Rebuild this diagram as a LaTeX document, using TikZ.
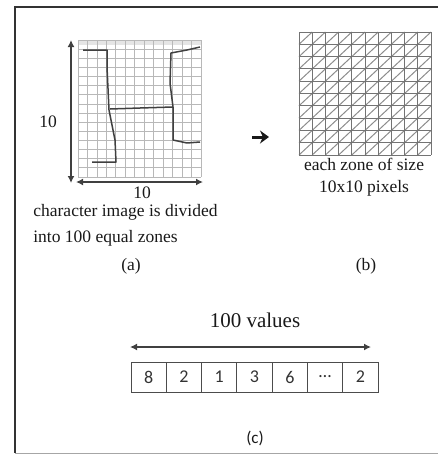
\documentclass[tikz,border=0pt]{standalone}
\usepackage{fontspec}
\setmainfont{Liberation Serif}
\newfontfamily\calfont{Carlito}
\usetikzlibrary{arrows.meta}

\tikzset{every picture/.style={line width=0.75pt}}
\tikzset{
  gridline/.style={draw=black!28, line width=0.8pt},
  zoneline/.style={draw=black!55, line width=1pt},
  penstroke/.style={draw=black!75, line width=1.5pt, line join=round},
  dimarrow/.style={{Latex[length=7pt,width=7pt]}-{Latex[length=7pt,width=7pt]}, line width=1.4pt, draw=black!75},
  bigarrow/.style={-{Stealth[length=9pt,width=13pt]}, line width=3pt, draw=black!90},
  lbl/.style={font=\fontsize{17.5}{21}\selectfont, text=black!90, inner sep=0pt},
  cell/.style={draw=black!70, line width=1pt, minimum width=35.3pt, minimum height=30pt,
    inner sep=0pt, font=\calfont\fontsize{18}{18}\selectfont, text=black!80},
}

\begin{document}
\begin{tikzpicture}[x=1pt,y=-1pt]
    \useasboundingbox (0,0) rectangle (438,455);
    % frame
    \draw[line width=2pt, black!80] (438,7) -- (15,7) -- (15,453);
    \draw[line width=1pt, black!35] (15,453) -- (438,453);
    % (a) character image on a grid
    \fill[black!10] (78,40) rectangle (201,45);
    \foreach \i in {0,...,13} \draw[gridline] ({78+\i*9.46},40) -- ({78+\i*9.46},177);
    \foreach \j in {0,...,15} \draw[gridline] (78,{40+\j*9.13}) -- (201,{40+\j*9.13});
    \draw[penstroke] (83,50) -- (107,50) -- (107,67) -- (109,110) -- (115,140) -- (116,162) -- (92,162);
    \draw[penstroke] (110,109) -- (140,108) -- (173,107);
    \draw[penstroke] (200,47) -- (187,50) -- (171,53) -- (170,83) -- (173,107) -- (173,140) -- (187,143) -- (200,142);
    \coordinate (vtop) at (71,40);
    \coordinate (vbot) at (71,183);
    \coordinate (hleft) at (76,182);
    \coordinate (hright) at (203,182);
    \draw[dimarrow] (vtop) -- (vbot);
    \draw[dimarrow] (hleft) -- (hright);
    \node[lbl] (sizev) at (48,122) {10};
    \node[lbl, anchor=base] (sizeh) at (142,198) {10};
    \node[lbl, anchor=base west] (capa) at (33,216) {character image is divided};
    \node[lbl, anchor=base west] (capb) at (33,242) {into 100 equal zones};
    \node[lbl, anchor=base] (taga) at (131,270) {(a)};
    % arrow to (b)
    \coordinate (from) at (252,137);
    \coordinate (to) at (269,137);
    \draw[bigarrow] (from) -- (to);
    % (b) zones of 10x10 pixels
    \foreach \i in {0,...,9} \foreach \j in {0,...,9}
        \draw[zoneline, black!45] ({299+\i*13.2},{44.3+\j*12.3}) -- ({299+(\i+1)*13.2},{32+\j*12.3});
    \foreach \i in {0,...,10} \draw[zoneline] ({299+\i*13.2},32) -- ({299+\i*13.2},155);
    \foreach \j in {0,...,10} \draw[zoneline] (299,{32+\j*12.3}) -- (431,{32+\j*12.3});
    \node[lbl, anchor=base] (capc) at (364,170) {each zone of size};
    \node[lbl, anchor=base] (capd) at (364,192) {10x10 pixels};
    \node[lbl, anchor=base] (tagb) at (366,270) {(b)};
    % (c) feature vector
    \node[lbl, anchor=base, font=\fontsize{21}{21}\selectfont] (nvals) at (255,327) {100 values};
    \foreach \v [count=\i] in {8,2,1,3,6,\ldots,2}
        \node[cell] (c\i) at ({131+35.3*(\i-0.5)},377) {\v};
    \coordinate (vleft) at (130,347);
    \coordinate (vright) at (371,347);
    \draw[dimarrow] (vleft) -- (vright);
    \node[lbl, font=\calfont\fontsize{17}{17}\selectfont] (tagc) at (255,438) {(c)};
\end{tikzpicture}
\end{document}
